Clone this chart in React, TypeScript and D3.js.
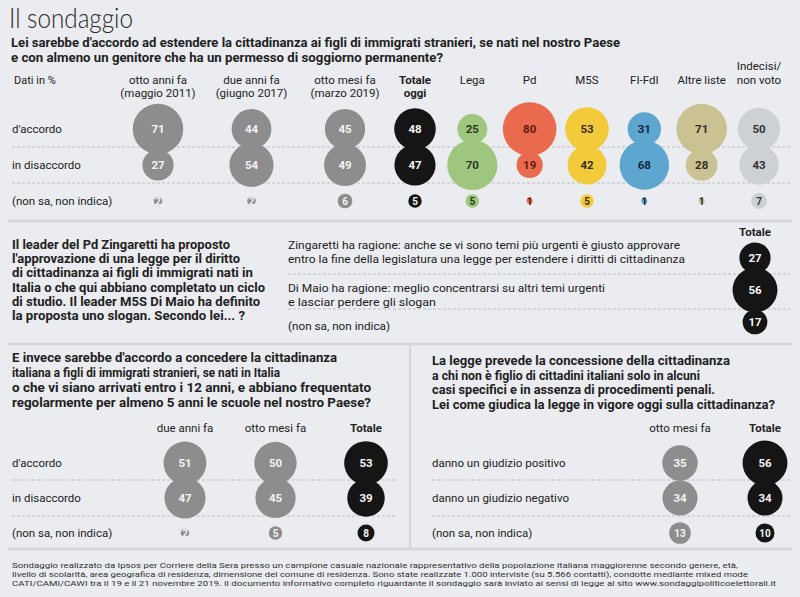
import React from 'react';
import * as d3 from 'd3';

// ---- data ----
const q1Columns = ['otto anni fa', 'due anni fa', 'otto mesi fa', 'Totale oggi', 'Lega', 'Pd', 'M5S', 'FI-FdI', 'Altre liste', 'Indecisi'];
const q1Headers = [
  ['', 'otto anni fa', '(maggio 2011)'],
  ['', 'due anni fa', '(giugno 2017)'],
  ['', 'otto mesi fa', '(marzo 2019)'],
  ['', 'Totale', 'oggi'],
  ['', 'Lega', ''],
  ['', 'Pd', ''],
  ['', 'M5S', ''],
  ['', 'FI-FdI', ''],
  ['', 'Altre liste', ''],
  ['Indecisi/', 'non voto', ''],
];
const q1Rows = ["d'accordo", 'in disaccordo', '(non sa, non indica)'];
const q1Agree = [71, 44, 45, 48, 25, 80, 53, 31, 71, 50];
const q1Disagree = [27, 54, 49, 47, 70, 19, 42, 68, 28, 43];
const q1NoAnswer = [2, 2, 6, 5, 5, 1, 5, 1, 1, 7];

const q2Rows = ['Zingaretti', 'Di Maio', 'non sa'];
const q2Totale = [27, 56, 17];

const q3Columns = ['due anni fa', 'otto mesi fa', 'Totale'];
const q3Rows = ["d'accordo", 'in disaccordo', '(non sa, non indica)'];
const q3Values = [
  [51, 47, 2],
  [50, 45, 5],
  [53, 39, 8],
];

const q4Columns = ['otto mesi fa', 'Totale'];
const q4Rows = ['danno un giudizio positivo', 'danno un giudizio negativo', '(non sa, non indica)'];
const q4Values = [
  [35, 34, 13],
  [56, 34, 10],
];

// ---- styles ----
const FONT = "Roboto, 'Liberation Sans', sans-serif";
const BG = '#eaecef';
const GRAY = '#8d8d8d';
const BLACK = '#151515';
const RULE = '#d3d6da';
const DASH = '#bcbfc3';
const colFill: Record<string, string> = {
  'otto anni fa': GRAY, 'due anni fa': GRAY, 'otto mesi fa': GRAY, 'Totale oggi': BLACK, Totale: BLACK,
  Lega: '#9fc67e', Pd: '#e96a4c', M5S: '#f3ca3a', 'FI-FdI': '#5ca6d0', 'Altre liste': '#cac293', Indecisi: '#ced1d4',
};
const colText: Record<string, string> = {
  Lega: '#2c3a22', Pd: '#5e1a0e', M5S: '#3a3010', 'FI-FdI': '#10283a', 'Altre liste': '#33301e', Indecisi: '#333',
};
const textColor = (c: string) => colText[c] || '#f4f4f4';

const r = d3.scaleSqrt().domain([0, 100]).range([0, 30]);

const T = ({ x, y, w, size = 11.5, bold = false, anchor = 'start', fill = '#222', children }: any) => (
  <text x={x} y={y} fontSize={size} fontWeight={bold ? 700 : 400} textAnchor={anchor} fill={fill}
    textLength={w} lengthAdjust={w ? 'spacingAndGlyphs' : undefined}>{children}</text>
);

const Bubble = ({ cx, cy, v, col, small = false }: any) => (
  <g>
    <circle cx={cx} cy={cy} r={r(v)} fill={colFill[col]} />
    <text x={cx} y={cy + (small ? 3.5 : 4)} textAnchor="middle" fontSize={small ? 10 : 11.5} fontWeight={700}
      fill={textColor(col)}>{v}</text>
  </g>
);

const Dashed = ({ x1, x2, y }: any) => (
  <line x1={x1} x2={x2} y1={y} y2={y} stroke={DASH} strokeDasharray="3,2" strokeWidth={1} />
);

export default function App() {
  // question 1 scales
  const xHist = d3.scalePoint().domain(q1Columns.slice(0, 3)).range([158, 345]);
  const xParty = d3.scalePoint().domain(q1Columns.slice(3)).range([415, 759]);
  const x1 = (c: string) => (xHist(c) ?? xParty(c)) as number;
  const y1 = d3.scalePoint().domain(q1Rows).range([129, 201]);
  const y1v = (i: number) => y1(q1Rows[i]) as number;

  const y2 = d3.scalePoint().domain(q2Rows).range([258, 322]);

  const x3 = d3.scalePoint().domain(q3Columns).range([185, 366]);
  const y3 = d3.scalePoint().domain(q3Rows).range([463, 533]);
  const x4 = d3.scalePoint().domain(q4Columns).range([680, 765]);
  const y4 = d3.scalePoint().domain(q4Rows).range([463, 533]);

  const q1Series = [q1Agree, q1Disagree, q1NoAnswer];

  return (
    <div style={{ position: 'absolute', left: 0, top: 0 }}>
      <svg width={800} height={597} style={{ display: 'block', fontFamily: FONT }}>
        <rect width={800} height={597} fill={BG} />

        {/* title + question 1 */}
        <text x={9} y={28} fontSize={27} fontWeight={300} fill="#2a2a2a" textLength={124}
          lengthAdjust="spacingAndGlyphs" style={{ fontFamily: "Lato, Roboto, sans-serif" }}>Il sondaggio</text>
        <T x={11} y={47} size={12.5} bold w={609}>Lei sarebbe d'accordo ad estendere la cittadinanza ai figli di immigrati stranieri, se nati nel nostro Paese</T>
        <T x={11} y={62} size={12.5} bold w={432}>e con almeno un genitore che ha un permesso di soggiorno permanente?</T>

        <T x={14} y={84} size={11}>Dati in %</T>
        {q1Headers.map((h, i) => {
          const c = q1Columns[i];
          const bold = c === 'Totale oggi';
          return (
            <g key={c}>
              {h.map((line, k) => line ? (
                <T key={k} x={x1(c)} y={70 + k * 13.5} size={11.5} anchor="middle" bold={bold}>{line}</T>
              ) : null)}
            </g>
          );
        })}

        {q1Rows.map((row, i) => (
          <T key={row} x={12} y={y1v(i) + 4} size={11.5}>{row}</T>
        ))}
        <Dashed x1={12} x2={790} y={(y1v(0) + y1v(1)) / 2} />
        <Dashed x1={12} x2={790} y={(y1v(1) + y1v(2)) / 2} />

        {q1Columns.map((c, j) => (
          <g key={c}>
            {q1Series.map((s, i) => (
              <Bubble key={i} cx={x1(c)} cy={y1v(i)} v={s[j]} col={c} small={i === 2} />
            ))}
          </g>
        ))}

        <line x1={8} x2={792} y1={221} y2={221} stroke={RULE} strokeWidth={3} />

        {/* question 2 */}
        <T x={12} y={249} size={12.5} bold w={218}>Il leader del Pd Zingaretti ha proposto</T>
        <T x={12} y={263} size={12.5} bold w={228}>l'approvazione di una legge per il diritto</T>
        <T x={12} y={277} size={12.5} bold w={241}>di cittadinanza ai figli di immigrati nati in</T>
        <T x={12} y={292} size={12.5} bold w={253}>Italia o che qui abbiano completato un ciclo</T>
        <T x={12} y={306} size={12.5} bold w={248}>di studio. Il leader M5S Di Maio ha definito</T>
        <T x={12} y={320} size={12.5} bold w={233}>la proposta uno slogan. Secondo lei... ?</T>

        <T x={288} y={249} size={11.5} w={392}>Zingaretti ha ragione: anche se vi sono temi più urgenti è giusto approvare</T>
        <T x={288} y={263} size={11.5} w={397}>entro la fine della legislatura una legge per estendere i diritti di cittadinanza</T>
        <T x={288} y={292} size={11.5} w={317}>Di Maio ha ragione: meglio concentrarsi su altri temi urgenti</T>
        <T x={288} y={306} size={11.5} w={148}>e lasciar perdere gli slogan</T>
        <T x={288} y={330} size={11.5} w={102}>(non sa, non indica)</T>
        <Dashed x1={288} x2={790} y={274} />
        <Dashed x1={288} x2={790} y={309} />
        <T x={755} y={236} size={11.5} bold anchor="middle">Totale</T>
        {q2Rows.map((row, i) => (
          <Bubble key={row} cx={755} cy={y2(row)} v={q2Totale[i]} col="Totale" />
        ))}

        <line x1={8} x2={792} y1={344} y2={344} stroke={RULE} strokeWidth={3} />
        <line x1={410} x2={410} y1={345} y2={549} stroke={RULE} strokeWidth={2} />

        {/* question 3 */}
        <T x={12} y={362} size={12.5} bold w={325}>E invece sarebbe d'accordo a concedere la cittadinanza</T>
        <T x={12} y={377} size={12.5} bold w={268}>italiana a figli di immigrati stranieri, se nati in Italia</T>
        <T x={12} y={392} size={12.5} bold w={359}>o che vi siano arrivati entro i 12 anni, e abbiano frequentato</T>
        <T x={12} y={407} size={12.5} bold w={359}>regolarmente per almeno 5 anni le scuole nel nostro Paese?</T>
        {q3Columns.map(c => (
          <T key={c} x={x3(c)} y={432} size={11.5} anchor="middle" bold={c === 'Totale'}>{c}</T>
        ))}
        {q3Rows.map(row => (
          <T key={row} x={12} y={(y3(row) as number) + 4} size={11.5}>{row}</T>
        ))}
        <Dashed x1={12} x2={395} y={480} />
        <Dashed x1={12} x2={395} y={516} />
        {q3Columns.map((c, j) => (
          <g key={c}>
            {q3Rows.map((row, i) => (
              <Bubble key={row} cx={x3(c)} cy={y3(row)} v={q3Values[j][i]} col={c} small={i === 2} />
            ))}
          </g>
        ))}

        {/* question 4 */}
        <T x={432} y={365} size={12.5} bold w={298}>La legge prevede la concessione della cittadinanza</T>
        <T x={432} y={380} size={12.5} bold w={268}>a chi non è figlio di cittadini italiani solo in alcuni</T>
        <T x={432} y={394} size={12.5} bold w={283}>casi specifici e in assenza di procedimenti penali.</T>
        <T x={432} y={409} size={12.5} bold w={343}>Lei come giudica la legge in vigore oggi sulla cittadinanza?</T>
        {q4Columns.map(c => (
          <T key={c} x={x4(c)} y={432} size={11.5} anchor="middle" bold={c === 'Totale'}>{c}</T>
        ))}
        {q4Rows.map(row => (
          <T key={row} x={432} y={(y4(row) as number) + 4} size={11.5}>{row}</T>
        ))}
        <Dashed x1={432} x2={790} y={480} />
        <Dashed x1={432} x2={790} y={516} />
        {q4Columns.map((c, j) => (
          <g key={c}>
            {q4Rows.map((row, i) => (
              <Bubble key={row} cx={x4(c)} cy={y4(row)} v={q4Values[j][i]} col={c} small={i === 2} />
            ))}
          </g>
        ))}

        <line x1={8} x2={792} y1={549} y2={549} stroke={RULE} strokeWidth={3} />

        {/* footnote */}
        <T x={12} y={568} size={8} w={726} fill="#333">Sondaggio realizzato da Ipsos per Corriere della Sera presso un campione casuale nazionale rappresentativo della popolazione italiana maggiorenne secondo genere, età,</T>
        <T x={12} y={577} size={8} w={736} fill="#333">livello di scolarità, area geografica di residenza, dimensione del comune di residenza. Sono state realizzate 1.000 interviste (su 5.566 contatti), condotte mediante mixed mode</T>
        <T x={12} y={586} size={8} w={764} fill="#333">CATI/CAMI/CAWI tra il 19 e il 21 novembre 2019. Il documento informativo completo riguardante il sondaggio sarà inviato ai sensi di legge al sito www.sondaggipoliticoelettorali.it</T>
      </svg>
    </div>
  );
}
